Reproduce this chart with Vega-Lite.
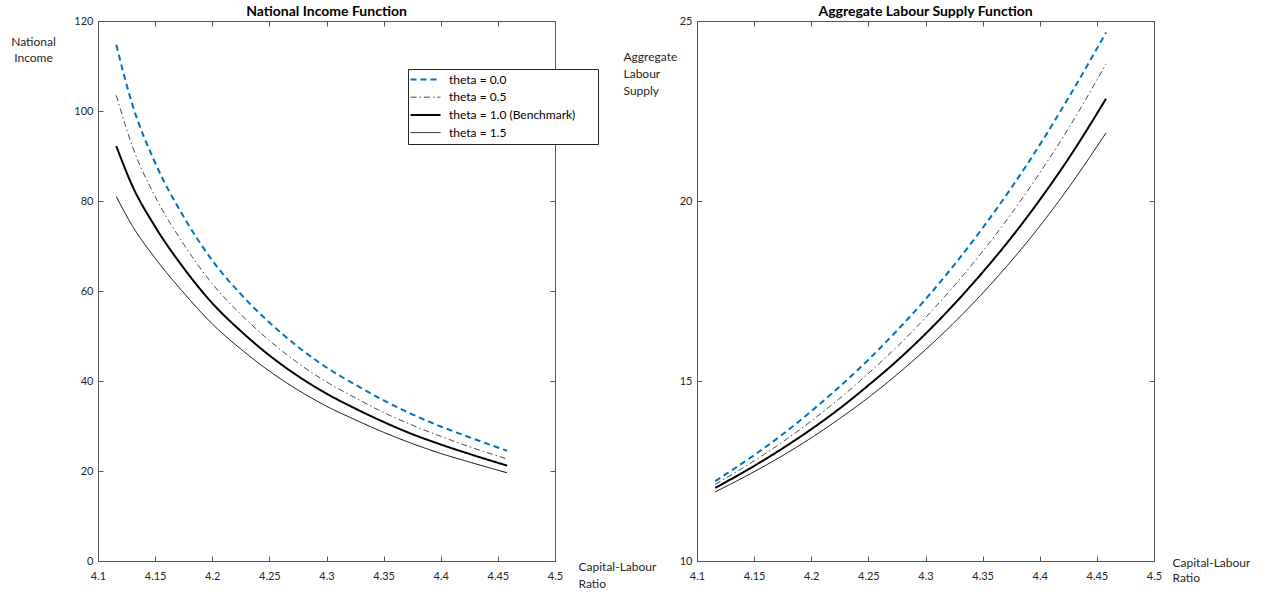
{
  "$schema": "https://vega.github.io/schema/vega-lite/v6.json",
  "autosize": {"type": "pad"},
  "padding": {"left": 10, "top": 5, "right": 0, "bottom": 0},
  "background": "white",
  "bounds": "flush",
  "spacing": 142,
  "config": {
    "font": "Lato",
    "view": {"stroke": null},
    "axis": {
      "domainColor": "#555555", "tickColor": "#555555", "domainWidth": 1, "tickWidth": 1,
      "labelColor": "#262626", "titleColor": "#262626", "labelFontSize": 11, "titleFontSize": 12,
      "titleFontWeight": "normal", "grid": false, "tickSize": -5, "labelFlush": false, "labelOverlap": false,
      "labelExpr": "toString(datum.value)"
    },
    "title": {"fontSize": 14, "fontWeight": "bold", "color": "#000000", "anchor": "middle", "frame": "group", "offset": -4},
    "line": {"interpolate": "monotone"}
  },
  "datasets": {
    "income": [
      {"series": "theta = 0.0", "k": 4.116, "v": 114.7}, {"series": "theta = 0.0", "k": 4.13, "v": 101.5}, {"series": "theta = 0.0", "k": 4.15, "v": 88.5}, {"series": "theta = 0.0", "k": 4.175, "v": 76.5}, {"series": "theta = 0.0", "k": 4.2, "v": 66.8}, {"series": "theta = 0.0", "k": 4.225, "v": 59.3}, {"series": "theta = 0.0", "k": 4.25, "v": 53.0}, {"series": "theta = 0.0", "k": 4.275, "v": 47.6}, {"series": "theta = 0.0", "k": 4.3, "v": 43.0}, {"series": "theta = 0.0", "k": 4.325, "v": 39.2}, {"series": "theta = 0.0", "k": 4.35, "v": 35.7}, {"series": "theta = 0.0", "k": 4.375, "v": 32.6}, {"series": "theta = 0.0", "k": 4.4, "v": 29.9}, {"series": "theta = 0.0", "k": 4.425, "v": 27.5}, {"series": "theta = 0.0", "k": 4.458, "v": 24.5},
      {"series": "theta = 0.5", "k": 4.116, "v": 103.5}, {"series": "theta = 0.5", "k": 4.13, "v": 92.2}, {"series": "theta = 0.5", "k": 4.15, "v": 81.0}, {"series": "theta = 0.5", "k": 4.175, "v": 70.4}, {"series": "theta = 0.5", "k": 4.2, "v": 61.6}, {"series": "theta = 0.5", "k": 4.225, "v": 54.8}, {"series": "theta = 0.5", "k": 4.25, "v": 49.0}, {"series": "theta = 0.5", "k": 4.275, "v": 44.0}, {"series": "theta = 0.5", "k": 4.3, "v": 39.8}, {"series": "theta = 0.5", "k": 4.325, "v": 36.3}, {"series": "theta = 0.5", "k": 4.35, "v": 33.0}, {"series": "theta = 0.5", "k": 4.375, "v": 30.2}, {"series": "theta = 0.5", "k": 4.4, "v": 27.7}, {"series": "theta = 0.5", "k": 4.425, "v": 25.4}, {"series": "theta = 0.5", "k": 4.458, "v": 22.7},
      {"series": "theta = 1.0 (Benchmark)", "k": 4.116, "v": 92.2}, {"series": "theta = 1.0 (Benchmark)", "k": 4.13, "v": 83.4}, {"series": "theta = 1.0 (Benchmark)", "k": 4.15, "v": 74.3}, {"series": "theta = 1.0 (Benchmark)", "k": 4.175, "v": 65.1}, {"series": "theta = 1.0 (Benchmark)", "k": 4.2, "v": 57.3}, {"series": "theta = 1.0 (Benchmark)", "k": 4.225, "v": 51.1}, {"series": "theta = 1.0 (Benchmark)", "k": 4.25, "v": 45.7}, {"series": "theta = 1.0 (Benchmark)", "k": 4.275, "v": 41.1}, {"series": "theta = 1.0 (Benchmark)", "k": 4.3, "v": 37.2}, {"series": "theta = 1.0 (Benchmark)", "k": 4.325, "v": 33.9}, {"series": "theta = 1.0 (Benchmark)", "k": 4.35, "v": 30.9}, {"series": "theta = 1.0 (Benchmark)", "k": 4.375, "v": 28.2}, {"series": "theta = 1.0 (Benchmark)", "k": 4.4, "v": 25.9}, {"series": "theta = 1.0 (Benchmark)", "k": 4.425, "v": 23.8}, {"series": "theta = 1.0 (Benchmark)", "k": 4.458, "v": 21.2},
      {"series": "theta = 1.5", "k": 4.116, "v": 81.0}, {"series": "theta = 1.5", "k": 4.13, "v": 74.5}, {"series": "theta = 1.5", "k": 4.15, "v": 67.3}, {"series": "theta = 1.5", "k": 4.175, "v": 59.6}, {"series": "theta = 1.5", "k": 4.2, "v": 52.7}, {"series": "theta = 1.5", "k": 4.225, "v": 47.1}, {"series": "theta = 1.5", "k": 4.25, "v": 42.2}, {"series": "theta = 1.5", "k": 4.275, "v": 38.0}, {"series": "theta = 1.5", "k": 4.3, "v": 34.4}, {"series": "theta = 1.5", "k": 4.325, "v": 31.4}, {"series": "theta = 1.5", "k": 4.35, "v": 28.6}, {"series": "theta = 1.5", "k": 4.375, "v": 26.1}, {"series": "theta = 1.5", "k": 4.4, "v": 23.9}, {"series": "theta = 1.5", "k": 4.425, "v": 22.0}, {"series": "theta = 1.5", "k": 4.458, "v": 19.6}
    ],
    "labour": [
      {"series": "theta = 0.0", "k": 4.116, "v": 12.22}, {"series": "theta = 0.0", "k": 4.15, "v": 12.94}, {"series": "theta = 0.0", "k": 4.175, "v": 13.52}, {"series": "theta = 0.0", "k": 4.2, "v": 14.16}, {"series": "theta = 0.0", "k": 4.225, "v": 14.85}, {"series": "theta = 0.0", "k": 4.25, "v": 15.59}, {"series": "theta = 0.0", "k": 4.275, "v": 16.40}, {"series": "theta = 0.0", "k": 4.3, "v": 17.27}, {"series": "theta = 0.0", "k": 4.325, "v": 18.22}, {"series": "theta = 0.0", "k": 4.35, "v": 19.25}, {"series": "theta = 0.0", "k": 4.375, "v": 20.36}, {"series": "theta = 0.0", "k": 4.4, "v": 21.56}, {"series": "theta = 0.0", "k": 4.425, "v": 22.86}, {"series": "theta = 0.0", "k": 4.458, "v": 24.68},
      {"series": "theta = 0.5", "k": 4.116, "v": 12.13}, {"series": "theta = 0.5", "k": 4.15, "v": 12.78}, {"series": "theta = 0.5", "k": 4.175, "v": 13.31}, {"series": "theta = 0.5", "k": 4.2, "v": 13.89}, {"series": "theta = 0.5", "k": 4.225, "v": 14.52}, {"series": "theta = 0.5", "k": 4.25, "v": 15.21}, {"series": "theta = 0.5", "k": 4.275, "v": 15.95}, {"series": "theta = 0.5", "k": 4.3, "v": 16.76}, {"series": "theta = 0.5", "k": 4.325, "v": 17.64}, {"series": "theta = 0.5", "k": 4.35, "v": 18.60}, {"series": "theta = 0.5", "k": 4.375, "v": 19.64}, {"series": "theta = 0.5", "k": 4.4, "v": 20.78}, {"series": "theta = 0.5", "k": 4.425, "v": 22.01}, {"series": "theta = 0.5", "k": 4.458, "v": 23.81},
      {"series": "theta = 1.0 (Benchmark)", "k": 4.116, "v": 12.03}, {"series": "theta = 1.0 (Benchmark)", "k": 4.15, "v": 12.64}, {"series": "theta = 1.0 (Benchmark)", "k": 4.175, "v": 13.13}, {"series": "theta = 1.0 (Benchmark)", "k": 4.2, "v": 13.66}, {"series": "theta = 1.0 (Benchmark)", "k": 4.225, "v": 14.24}, {"series": "theta = 1.0 (Benchmark)", "k": 4.25, "v": 14.88}, {"series": "theta = 1.0 (Benchmark)", "k": 4.275, "v": 15.56}, {"series": "theta = 1.0 (Benchmark)", "k": 4.3, "v": 16.31}, {"series": "theta = 1.0 (Benchmark)", "k": 4.325, "v": 17.13}, {"series": "theta = 1.0 (Benchmark)", "k": 4.35, "v": 18.02}, {"series": "theta = 1.0 (Benchmark)", "k": 4.375, "v": 18.98}, {"series": "theta = 1.0 (Benchmark)", "k": 4.4, "v": 20.03}, {"series": "theta = 1.0 (Benchmark)", "k": 4.425, "v": 21.17}, {"series": "theta = 1.0 (Benchmark)", "k": 4.458, "v": 22.84},
      {"series": "theta = 1.5", "k": 4.116, "v": 11.92}, {"series": "theta = 1.5", "k": 4.15, "v": 12.48}, {"series": "theta = 1.5", "k": 4.175, "v": 12.93}, {"series": "theta = 1.5", "k": 4.2, "v": 13.42}, {"series": "theta = 1.5", "k": 4.225, "v": 13.96}, {"series": "theta = 1.5", "k": 4.25, "v": 14.54}, {"series": "theta = 1.5", "k": 4.275, "v": 15.18}, {"series": "theta = 1.5", "k": 4.3, "v": 15.87}, {"series": "theta = 1.5", "k": 4.325, "v": 16.62}, {"series": "theta = 1.5", "k": 4.35, "v": 17.44}, {"series": "theta = 1.5", "k": 4.375, "v": 18.33}, {"series": "theta = 1.5", "k": 4.4, "v": 19.30}, {"series": "theta = 1.5", "k": 4.425, "v": 20.36}, {"series": "theta = 1.5", "k": 4.458, "v": 21.89}
    ]
  },
  "resolve": {
    "scale": {"color": "independent", "strokeDash": "independent"},
    "legend": {"color": "independent", "strokeDash": "independent"}
  },
  "hconcat": [
    {
      "width": 457, "height": 540,
      "title": {"text": "National Income Function"},
      "data": {"name": "income"},
      "resolve": {"axis": {"x": "independent", "y": "independent"}},
      "layer": [
        {
          "mark": {"type": "line"},
          "encoding": {
            "x": {"field": "k", "type": "quantitative", "scale": {"domain": [4.1, 4.5], "nice": false, "zero": false},
              "axis": {"orient": "bottom", "values": [4.1, 4.15, 4.2, 4.25, 4.3, 4.35, 4.4, 4.45, 4.5], "labelPadding": 14,
                "title": ["Capital-Labour", "Ratio"], "titleAngle": 0, "titleAlign": "left", "titleBaseline": "top", "titleX": 480, "titleY": 0, "titleLineHeight": 17}},
            "y": {"field": "v", "type": "quantitative", "scale": {"domain": [0, 120], "nice": false, "zero": false},
              "axis": {"orient": "left", "values": [0, 20, 40, 60, 80, 100, 120], "labelPadding": 10,
                "title": ["National", "Income"], "titleAngle": 0, "titleAlign": "center", "titleBaseline": "top", "titleX": -65, "titleY": 15, "titleLineHeight": 16}},
            "color": {"field": "series", "type": "nominal",
              "scale": {"domain": ["theta = 0.0", "theta = 0.5", "theta = 1.0 (Benchmark)", "theta = 1.5"], "range": ["#0072BD", "#1a1a1a", "#000000", "#000000"]},
              "legend": {"title": null, "orient": "none", "legendX": 310, "legendY": 48, "direction": "vertical",
                "strokeColor": "#262626", "fillColor": "#ffffff", "padding": 4.5, "symbolType": "M-1.765,0H1.765", "symbolSize": 289,
                "symbolOffset": 7, "labelOffset": 17.5, "rowPadding": 5.7, "labelFontSize": 12, "labelColor": "#000000", "labelLimit": 400,
                "labelExpr": "datum.label + '\u2800\u2800'",
                "encode": {"symbols": {"update": {"strokeWidth": {"signal": "datum.value === 'theta = 0.0' || datum.value === 'theta = 1.0 (Benchmark)' ? 2 : (datum.value === 'theta = 0.5' ? 0.8 : 1)"}}}}}},
            "strokeDash": {"field": "series", "type": "nominal",
              "scale": {"domain": ["theta = 0.0", "theta = 0.5", "theta = 1.0 (Benchmark)", "theta = 1.5"], "range": [[6, 4], [6, 3, 1.5, 3], [1, 0], [1, 0]]},
              "legend": {"title": null, "orient": "none", "legendX": 310, "legendY": 48, "direction": "vertical",
                "strokeColor": "#262626", "fillColor": "#ffffff", "padding": 4.5, "symbolType": "M-1.765,0H1.765", "symbolSize": 289,
                "symbolOffset": 7, "labelOffset": 17.5, "rowPadding": 5.7, "labelFontSize": 12, "labelColor": "#000000", "labelLimit": 400,
                "labelExpr": "datum.label + '\u2800\u2800'",
                "encode": {"symbols": {"update": {"strokeWidth": {"signal": "datum.value === 'theta = 0.0' || datum.value === 'theta = 1.0 (Benchmark)' ? 2 : (datum.value === 'theta = 0.5' ? 0.8 : 1)"}}}}}},
            "strokeWidth": {"condition": [
                {"test": "datum.series === 'theta = 0.0' || datum.series === 'theta = 1.0 (Benchmark)'", "value": 2},
                {"test": "datum.series === 'theta = 0.5'", "value": 0.8}], "value": 1}
          }
        },
        {
          "mark": {"type": "point", "opacity": 0},
          "encoding": {
            "x": {"field": "k", "type": "quantitative", "scale": {"domain": [4.1, 4.5], "nice": false, "zero": false},
              "axis": {"orient": "top", "values": [4.1, 4.15, 4.2, 4.25, 4.3, 4.35, 4.4, 4.45, 4.5], "labels": false, "title": null}},
            "y": {"field": "v", "type": "quantitative", "scale": {"domain": [0, 120], "nice": false, "zero": false},
              "axis": {"orient": "right", "values": [0, 20, 40, 60, 80, 100, 120], "labels": false, "title": null}}
          }
        }
      ]
    },
    {
      "width": 457, "height": 540,
      "title": {"text": "Aggregate Labour Supply Function"},
      "data": {"name": "labour"},
      "resolve": {"axis": {"x": "independent", "y": "independent"}},
      "layer": [
        {
          "mark": {"type": "line"},
          "encoding": {
            "x": {"field": "k", "type": "quantitative", "scale": {"domain": [4.1, 4.5], "nice": false, "zero": false},
              "axis": {"orient": "bottom", "values": [4.1, 4.15, 4.2, 4.25, 4.3, 4.35, 4.4, 4.45, 4.5], "labelPadding": 14,
                "title": ["Capital-Labour", "Ratio"], "titleAngle": 0, "titleAlign": "left", "titleBaseline": "top", "titleX": 475, "titleY": -4, "titleLineHeight": 15}},
            "y": {"field": "v", "type": "quantitative", "scale": {"domain": [10, 25], "nice": false, "zero": false},
              "axis": {"orient": "left", "values": [10, 15, 20, 25], "labelPadding": 10,
                "title": ["Aggregate", "Labour", "Supply"], "titleAngle": 0, "titleAlign": "left", "titleBaseline": "top", "titleX": -74, "titleY": 30, "titleLineHeight": 17}},
            "color": {"field": "series", "type": "nominal",
              "scale": {"domain": ["theta = 0.0", "theta = 0.5", "theta = 1.0 (Benchmark)", "theta = 1.5"], "range": ["#0072BD", "#1a1a1a", "#000000", "#000000"]},
              "legend": null},
            "strokeDash": {"field": "series", "type": "nominal",
              "scale": {"domain": ["theta = 0.0", "theta = 0.5", "theta = 1.0 (Benchmark)", "theta = 1.5"], "range": [[6, 4], [6, 3, 1.5, 3], [1, 0], [1, 0]]},
              "legend": null},
            "strokeWidth": {"condition": [
                {"test": "datum.series === 'theta = 0.0' || datum.series === 'theta = 1.0 (Benchmark)'", "value": 2},
                {"test": "datum.series === 'theta = 0.5'", "value": 0.8}], "value": 1}
          }
        },
        {
          "mark": {"type": "point", "opacity": 0},
          "encoding": {
            "x": {"field": "k", "type": "quantitative", "scale": {"domain": [4.1, 4.5], "nice": false, "zero": false},
              "axis": {"orient": "top", "values": [4.1, 4.15, 4.2, 4.25, 4.3, 4.35, 4.4, 4.45, 4.5], "labels": false, "title": null}},
            "y": {"field": "v", "type": "quantitative", "scale": {"domain": [10, 25], "nice": false, "zero": false},
              "axis": {"orient": "right", "values": [10, 15, 20, 25], "labels": false, "title": null}}
          }
        }
      ]
    }
  ]
}
